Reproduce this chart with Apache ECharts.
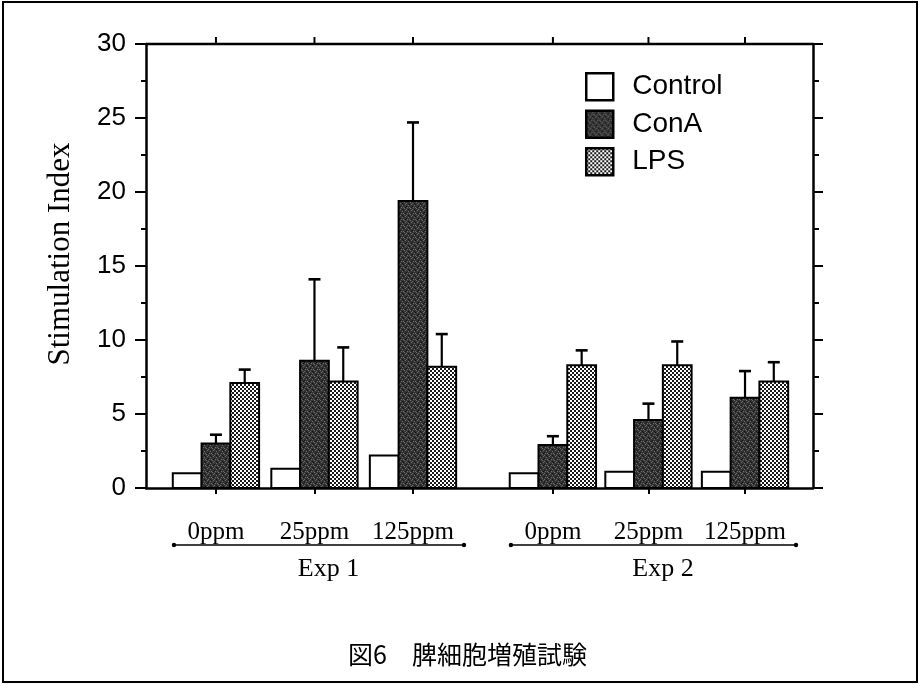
<!DOCTYPE html>
<html>
<head>
<meta charset="utf-8">
<script src="https://cdn.jsdelivr.net/npm/echarts@6/dist/echarts.min.js"></script>
<style>
  html, body { margin: 0; padding: 0; background: #fff; }
  #chart { width: 920px; height: 685px; }
</style>
</head>
<body>
<div id="chart"></div>
<script>
// ---- data ----
const seriesNames = ['Control', 'ConA', 'LPS'];
const doseLabels = ['0ppm', '25ppm', '125ppm', '0ppm', '25ppm', '125ppm'];
const groupPos = [1, 2, 3, 4.42, 5.39, 6.37];      // x-axis value of each dose group
const expNames = ['Exp 1', 'Exp 2'];
const controlSI = [1.0, 1.3, 2.2, 1.0, 1.1, 1.1];
const conaSI = [3.0, 8.6, 19.4, 2.9, 4.6, 6.1];
const conaSD = [0.6, 5.5, 5.3, 0.6, 1.1, 1.8];
const lpsSI = [7.1, 7.2, 8.2, 8.3, 8.3, 7.2];
const lpsSD = [0.9, 2.3, 2.2, 1.0, 1.6, 1.3];
const yMin = 0, yMax = 30, yStep = 5;
const caption = '図6　脾細胞増殖試験';

// ---- fills ----
function makePattern(size, draw) {
  const c = document.createElement('canvas');
  c.width = c.height = size;
  draw(c.getContext('2d'));
  return { image: c, repeat: 'repeat' };
}
const speckle = makePattern(6, g => {
  g.fillStyle = '#333333'; g.fillRect(0, 0, 6, 6);
  g.fillStyle = '#6a6a6a';
  [[0, 1], [3, 0], [5, 3], [2, 4], [4, 5], [1, 3]].forEach(p => g.fillRect(p[0], p[1], 1, 1));
  g.fillStyle = '#141414';
  [[1, 0], [4, 2], [0, 5], [3, 3]].forEach(p => g.fillRect(p[0], p[1], 1, 1));
});
const checker = makePattern(4, g => {
  g.fillStyle = '#ffffff'; g.fillRect(0, 0, 4, 4);
  g.fillStyle = '#1a1a1a'; g.fillRect(0, 0, 2, 2); g.fillRect(2, 2, 2, 2);
});
const fills = ['#ffffff', speckle, checker];

const BAR_W = 0.292;     // bar width in x-axis units
const ink = '#000';
const xMin = 0.29, xMax = 7.06;

function barSeries(idx, values, errs) {
  return {
    name: seriesNames[idx],
    type: 'custom',
    xAxisIndex: 0, yAxisIndex: 0,
    itemStyle: { color: fills[idx], borderColor: ink, borderWidth: 2 },
    data: groupPos.map((p, i) => [p, values[i], errs ? errs[i] : 0]),
    encode: { x: 0, y: 1 },
    z: 2,
    renderItem(params, api) {
      const pos = api.value(0), v = api.value(1), e = api.value(2);
      const w = api.size([BAR_W, 0])[0];
      const base = api.coord([pos, 0]);
      const top = api.coord([pos, v]);
      const x0 = base[0] + (idx - 1.5) * w;
      const children = [{
        type: 'rect',
        shape: { x: x0, y: top[1], width: w, height: base[1] - top[1] },
        style: { fill: fills[idx], stroke: ink, lineWidth: 2 }
      }];
      if (e > 0) {
        const tip = api.coord([pos, v + e]);
        const cx = x0 + w / 2;
        children.push({
          type: 'line', shape: { x1: cx, y1: top[1], x2: cx, y2: tip[1] },
          style: { stroke: ink, lineWidth: 2.2 }
        });
        children.push({
          type: 'line', shape: { x1: cx - 6, y1: tip[1], x2: cx + 6, y2: tip[1] },
          style: { stroke: ink, lineWidth: 2.6 }
        });
      }
      return { type: 'group', children };
    }
  };
}

// top frame line with short outward ticks, one per dose group
const topFrameSeries = {
  name: 'topFrame',
  type: 'custom',
  xAxisIndex: 0, yAxisIndex: 0,
  silent: true,
  clip: false,
  z: 5,
  data: groupPos.map(p => [p, yMax]),
  encode: { x: 0, y: 1 },
  renderItem(params, api) {
    const pt = api.coord([api.value(0), api.value(1)]);
    const children = [{
      type: 'line',
      shape: { x1: pt[0], y1: pt[1], x2: pt[0], y2: pt[1] - 7 },
      style: { stroke: ink, lineWidth: 2 }
    }];
    if (params.dataIndex === 0) {
      const l = api.coord([xMin, yMax]), r = api.coord([xMax, yMax]);
      children.push({
        type: 'line',
        shape: { x1: l[0], y1: l[1], x2: r[0], y2: r[1] },
        style: { stroke: ink, lineWidth: 2.5 }
      });
    }
    return { type: 'group', children };
  }
};

// brackets under the dose labels with the experiment names
const bracketSeries = {
  name: 'experiments',
  type: 'custom',
  xAxisIndex: 0, yAxisIndex: 0,
  silent: true,
  clip: false,
  data: [[0, groupPos[0], groupPos[2]], [1, groupPos[3], groupPos[5]]],
  encode: { x: 1 },
  renderItem(params, api) {
    const k = api.value(0);
    const a = api.coord([api.value(1), 0]);
    const b = api.coord([api.value(2), 0]);
    const y = a[1] + 57;
    const x1 = a[0] - 42, x2 = b[0] + 51;
    return {
      type: 'group',
      children: [
        { type: 'line', shape: { x1, y1: y, x2, y2: y }, style: { stroke: ink, lineWidth: 1.5 } },
        { type: 'circle', shape: { cx: x1, cy: y, r: 2.2 }, style: { fill: ink } },
        { type: 'circle', shape: { cx: x2, cy: y, r: 2.2 }, style: { fill: ink } },
        {
          type: 'text',
          style: {
            text: expNames[k], x: (a[0] + b[0]) / 2 + 14, y: y + 24,
            align: 'center', verticalAlign: 'middle',
            font: '26px "Liberation Serif"', fill: ink
          }
        }
      ]
    };
  }
};

const axisLine = { show: true, lineStyle: { color: ink, width: 2.5 } };

const chart = echarts.init(document.getElementById('chart'), null, { renderer: 'canvas' });
chart.setOption({
  backgroundColor: '#fff',
  animation: false,
  title: {
    text: caption,
    left: 343, top: 637,
    textStyle: { fontFamily: 'Noto Sans CJK JP', fontSize: 25, fontWeight: 'normal', color: ink }
  },
  grid: { left: 146, right: 107, top: 44, bottom: 197, containLabel: false, outerBoundsMode: 'none' },
  legend: {
    orient: 'vertical',
    left: 580, top: 67,
    itemWidth: 27, itemHeight: 27, itemGap: 8,
    icon: 'rect',
    textStyle: { fontFamily: 'Liberation Sans', fontSize: 28, color: ink, padding: [0, 0, 0, 14] },
    data: seriesNames.map((n, i) => ({
      name: n, icon: 'rect',
      itemStyle: { color: fills[i], borderColor: ink, borderWidth: 2.5 }
    }))
  },
  xAxis: [{
    type: 'value', position: 'bottom', min: xMin, max: xMax,
    axisLine,
    splitLine: { show: false },
    axisTick: { show: true, inside: false, length: 6, lineStyle: { color: ink, width: 2 }, customValues: groupPos },
    axisLabel: {
      show: true, margin: 32, customValues: groupPos,
      formatter: v => doseLabels[groupPos.indexOf(v)] || '',
      fontFamily: 'Liberation Serif', fontSize: 25, color: ink
    }
  }],
  yAxis: [{
    type: 'value', position: 'left', min: yMin, max: yMax, interval: yStep,
    name: 'Stimulation Index', nameLocation: 'middle', nameGap: 70,
    nameTextStyle: { fontFamily: 'Liberation Serif', fontSize: 31, color: ink, padding: [0, 0, 0, 24] },
    axisLine,
    splitLine: { show: false },
    axisTick: { show: true, inside: false, length: 11, lineStyle: { color: ink, width: 2 } },
    minorTick: { show: true, splitNumber: 2, length: 5, lineStyle: { color: ink, width: 2 } },
    axisLabel: { margin: 20, fontFamily: 'Liberation Sans', fontSize: 26, color: ink }
  }, {
    type: 'value', position: 'right', min: yMin, max: yMax, interval: yStep,
    axisLine,
    splitLine: { show: false },
    axisTick: { show: true, inside: false, length: 10, lineStyle: { color: ink, width: 2 } },
    minorTick: { show: true, splitNumber: 2, length: 6, lineStyle: { color: ink, width: 2 } },
    axisLabel: { show: false }
  }],
  graphic: [{
    type: 'rect', silent: true, z: 100,
    shape: { x: 3, y: 2, width: 914, height: 680 },
    style: { fill: null, stroke: ink, lineWidth: 2 }
  }],
  series: [
    barSeries(0, controlSI, null),
    barSeries(1, conaSI, conaSD),
    barSeries(2, lpsSI, lpsSD),
    topFrameSeries,
    bracketSeries
  ]
});
</script>
</body>
</html>
